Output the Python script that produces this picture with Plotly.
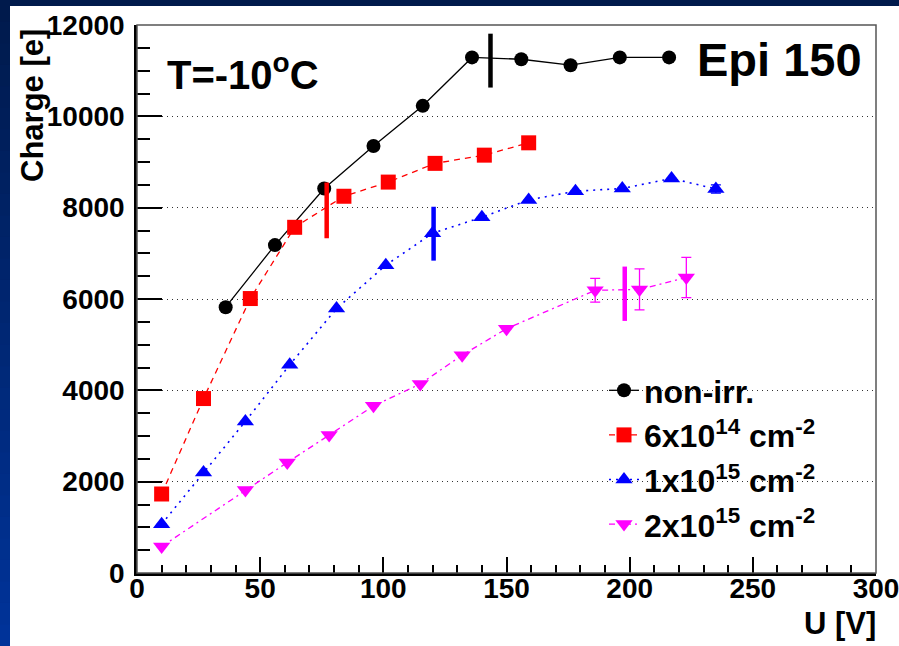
import plotly.graph_objects as go

# ---------------- data ----------------
U_nonirr = [36, 56, 76, 96, 116, 136, 156, 176, 196, 216]
Q_nonirr = [5820, 7180, 8420, 9350, 10230, 11290, 11250, 11120, 11290, 11290]

U_6e14 = [10, 27, 46, 64, 84, 102, 121, 141, 159]
Q_6e14 = [1730, 3820, 6010, 7570, 8250, 8560, 8970, 9150, 9420]

U_1e15 = [10, 27, 44, 62, 81, 101, 120, 140, 159, 178, 197, 217, 235]
Q_1e15 = [1070, 2200, 3320, 4560, 5790, 6740, 7440, 7790, 8170, 8360, 8420, 8640, 8410]
E_1e15 = [0, 0, 0, 0, 0, 0, 0, 0, 0, 0, 0, 0, 90]

U_2e15 = [10, 44, 61, 78, 96, 115, 132, 150, 186, 204, 223]
Q_2e15 = [580, 1820, 2420, 3020, 3660, 4140, 4770, 5350, 6190, 6210, 6470]
E_2e15 = [0, 0, 0, 0, 0, 0, 0, 0, 260, 450, 440]

# depletion-voltage markers (U, Q_low, Q_high)
dep_nonirr = (143.5, 10630, 11810)
dep_6e14 = (77, 7330, 8550)
dep_1e15 = (120.4, 6840, 8020)
dep_2e15 = (198, 5520, 6710)

x_ticks = [0, 50, 100, 150, 200, 250, 300]
y_ticks = [0, 2000, 4000, 6000, 8000, 10000, 12000]
y_ticklabels = ["0", "2000", "4000", "6000", "8000", "10000", "12000"]

names = ["non-irr.",
         "6x10<sup>14</sup> cm<sup>-2</sup>",
         "1x10<sup>15</sup> cm<sup>-2</sup>",
         "2x10<sup>15</sup> cm<sup>-2</sup>"]

FONT = "Liberation Sans, Arial, Helvetica, sans-serif"

fig = go.Figure()

series = [
    (U_nonirr, Q_nonirr, None, "black", "circle", "solid", 1.3, 14),
    (U_6e14, Q_6e14, None, "#ff0000", "square", "6px,5px", 1.3, 15),
    (U_1e15, Q_1e15, E_1e15, "#0000ff", "triangle-up", "2px,5px", 1.6, 15),
    (U_2e15, Q_2e15, E_2e15, "#ff00ff", "triangle-down", "6px,4px,2px,4px", 1.3, 15),
]
for (u, q, e, col, sym, dash, lw, ms), nm in zip(series, names):
    kw = {}
    if e is not None:
        kw["error_y"] = dict(type="data", array=e, visible=True, color=col,
                             thickness=1.3, width=5)
    fig.add_trace(go.Scatter(
        x=u, y=q, mode="lines+markers", name=nm,
        line=dict(color=col, width=lw, dash=dash),
        marker=dict(symbol=sym, size=ms, color=col, line=dict(width=0)),
        **kw))

for dep, col in zip([dep_nonirr, dep_6e14, dep_1e15, dep_2e15],
                    ["black", "#ff0000", "#0000ff", "#ff00ff"]):
    fig.add_trace(go.Scatter(
        x=[dep[0], dep[0]], y=[dep[1], dep[2]], mode="lines",
        line=dict(color=col, width=4.5), showlegend=False, hoverinfo="skip"))

# ---------------- layout ----------------
W, H = 899, 646
L, R, T, B = 137, 23, 25, 73
pw, ph = W - L - R, H - T - B


def px(xp):
    return (xp - L) / pw


def py(yp):
    return (H - B - yp) / ph


shapes = []
shapes.append(dict(type="rect", xref="paper", yref="paper", x0=px(0), x1=px(W),
                   y0=py(H), y1=py(0), fillcolor="white", line=dict(width=0),
                   layer="below"))
shapes.append(dict(type="rect", xref="paper", yref="paper", x0=px(0), x1=px(W),
                   y0=py(6), y1=py(0), fillcolor="#001a4c", line=dict(width=0),
                   layer="below"))
nb = 30
c0 = (0x00, 0x1a, 0x4c)
c1 = (0x00, 0x33, 0x99)
for i in range(nb):
    t = i / (nb - 1)
    col = "rgb(%d,%d,%d)" % tuple(round(a + (b - a) * t) for a, b in zip(c0, c1))
    shapes.append(dict(type="rect", xref="paper", yref="paper", x0=px(0), x1=px(10),
                       y0=py(H * (i + 1) / nb + 1), y1=py(H * i / nb),
                       fillcolor=col, line=dict(width=0), layer="below"))
shapes.append(dict(type="rect", xref="paper", yref="paper", x0=0, x1=1, y0=0, y1=1,
                   line=dict(color="#555555", width=1.5), fillcolor="rgba(0,0,0,0)",
                   layer="above"))

annotations = [
    dict(text="T=-10<sup>o</sup>C", x=px(165), y=py(72), xref="paper", yref="paper",
         xanchor="left", yanchor="middle", showarrow=False,
         font=dict(family=FONT, size=40, color="black", weight="bold")),
    dict(text="Epi 150", x=px(695), y=py(60), xref="paper", yref="paper",
         xanchor="left", yanchor="middle", showarrow=False,
         font=dict(family=FONT, size=47, color="black", weight="bold")),
    dict(text="Charge [e]", x=px(32), y=py(106), xref="paper", yref="paper",
         xanchor="center", yanchor="middle", textangle=-90, showarrow=False,
         font=dict(family=FONT, size=31, color="black", weight="bold")),
    dict(text="U [V]", x=px(878), y=py(623), xref="paper", yref="paper",
         xanchor="right", yanchor="middle", showarrow=False,
         font=dict(family=FONT, size=31, color="black", weight="bold")),
]

fig.update_layout(
    template="none",
    width=W, height=H,
    margin=dict(l=L, r=R, t=T, b=B, pad=0),
    paper_bgcolor="white", plot_bgcolor="white",
    showlegend=True,
    legend=dict(x=px(604), y=py(363), xanchor="left", yanchor="top",
                bgcolor="rgba(0,0,0,0)", borderwidth=0,
                font=dict(family=FONT, size=32, color="black", weight="bold"),
                tracegroupgap=0, itemwidth=30),
    shapes=shapes,
    annotations=annotations,
    xaxis=dict(range=[0, 300], tickvals=x_ticks, ticktext=[str(v) for v in x_ticks],
               ticks="inside", ticklen=16, tickwidth=2, tickcolor="black",
               minor=dict(dtick=10, ticks="inside", ticklen=8, tickwidth=1.5,
                          tickcolor="black", showgrid=False),
               showgrid=False, zeroline=False, showline=True, linecolor="black",
               linewidth=2.5, automargin=False, ticklabeloverflow="allow",
               ticklabelstandoff=-11,
               tickfont=dict(family=FONT, size=28, color="black", weight="bold")),
    yaxis=dict(range=[0, 12000], tickvals=y_ticks, ticktext=y_ticklabels,
               ticks="inside", ticklen=25, tickwidth=2, tickcolor="black",
               minor=dict(dtick=500, ticks="inside", ticklen=13, tickwidth=1.5,
                          tickcolor="black", showgrid=False),
               showgrid=True, gridcolor="#333333", gridwidth=1.2, griddash="1px,4px",
               zeroline=False, showline=True, linecolor="black", linewidth=2.5,
               automargin=False, ticklabelstandoff=4, ticklabeloverflow="allow",
               tickfont=dict(family=FONT, size=28, color="black", weight="bold")),
)

fig.write_html("out.html")
